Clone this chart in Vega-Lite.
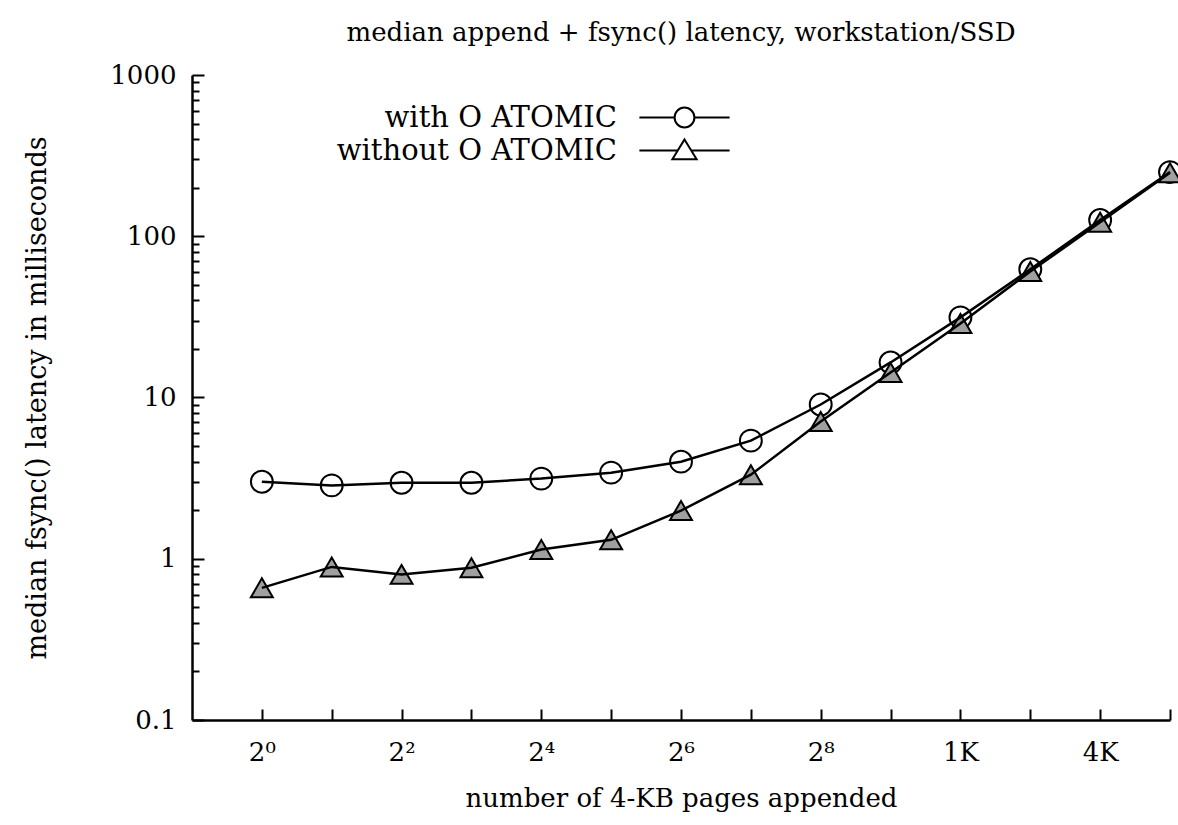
{
  "$schema": "https://vega.github.io/schema/vega-lite/v6.json",
  "width": 978,
  "height": 645,
  "autosize": "none",
  "padding": {"left": 192, "top": 75, "right": 8, "bottom": 105},
  "background": "white",
  "config": {"font": "DejaVu Serif", "view": {"stroke": null}},
  "title": {"text": "median append + fsync() latency, workstation/SSD", "fontSize": 26, "fontWeight": "normal", "font": "DejaVu Serif", "offset": 16, "anchor": "middle", "color": "black"},
  "data": {"values": [
    {"pages": 1, "latency": 3.0, "series": "with O ATOMIC"},
    {"pages": 2, "latency": 2.85, "series": "with O ATOMIC"},
    {"pages": 4, "latency": 2.96, "series": "with O ATOMIC"},
    {"pages": 8, "latency": 2.96, "series": "with O ATOMIC"},
    {"pages": 16, "latency": 3.14, "series": "with O ATOMIC"},
    {"pages": 32, "latency": 3.42, "series": "with O ATOMIC"},
    {"pages": 64, "latency": 4.0, "series": "with O ATOMIC"},
    {"pages": 128, "latency": 5.4, "series": "with O ATOMIC"},
    {"pages": 256, "latency": 9.05, "series": "with O ATOMIC"},
    {"pages": 512, "latency": 16.5, "series": "with O ATOMIC"},
    {"pages": 1024, "latency": 31.4, "series": "with O ATOMIC"},
    {"pages": 2048, "latency": 62.4, "series": "with O ATOMIC"},
    {"pages": 4096, "latency": 126, "series": "with O ATOMIC"},
    {"pages": 8192, "latency": 250, "series": "with O ATOMIC"},
    {"pages": 1, "latency": 0.66, "series": "without O ATOMIC"},
    {"pages": 2, "latency": 0.89, "series": "without O ATOMIC"},
    {"pages": 4, "latency": 0.8, "series": "without O ATOMIC"},
    {"pages": 8, "latency": 0.88, "series": "without O ATOMIC"},
    {"pages": 16, "latency": 1.14, "series": "without O ATOMIC"},
    {"pages": 32, "latency": 1.31, "series": "without O ATOMIC"},
    {"pages": 64, "latency": 1.99, "series": "without O ATOMIC"},
    {"pages": 128, "latency": 3.32, "series": "without O ATOMIC"},
    {"pages": 256, "latency": 7.1, "series": "without O ATOMIC"},
    {"pages": 512, "latency": 14.3, "series": "without O ATOMIC"},
    {"pages": 1024, "latency": 28.8, "series": "without O ATOMIC"},
    {"pages": 2048, "latency": 60.4, "series": "without O ATOMIC"},
    {"pages": 4096, "latency": 122, "series": "without O ATOMIC"},
    {"pages": 8192, "latency": 248, "series": "without O ATOMIC"}
  ]},
  "encoding": {
    "x": {
      "field": "pages", "type": "quantitative",
      "scale": {"type": "log", "base": 2, "domain": [0.5, 8192], "nice": false},
      "axis": {
        "title": "number of 4-KB pages appended",
        "titleFont": "DejaVu Serif", "titleFontSize": 26, "titleFontWeight": "normal", "titleColor": "black", "titlePadding": 20,
        "values": [1, 2, 4, 8, 16, 32, 64, 128, 256, 512, 1024, 2048, 4096, 8192],
        "labelExpr": "datum.value==1?'2⁰':datum.value==4?'2²':datum.value==16?'2⁴':datum.value==64?'2⁶':datum.value==256?'2⁸':datum.value==1024?'1K':datum.value==4096?'4K':''",
        "labelFont": "DejaVu Serif", "labelFontSize": 26, "labelColor": "black", "labelPadding": 30,
        "labelOverlap": false, "labelFlush": false, "grid": false,
        "domainColor": "black", "domainWidth": 2.5,
        "tickColor": "black", "tickWidth": 2, "tickSize": -11
      }
    }
  },
  "resolve": {"scale": {"shape": "independent"}, "axis": {"y": "independent"}},
  "layer": [
    {
      "mark": {"type": "point", "filled": true, "stroke": "black", "strokeWidth": 2, "size": 480, "opacity": 1},
      "encoding": {
        "y": {
          "field": "latency", "type": "quantitative",
          "scale": {"type": "log", "domain": [0.1, 1000], "nice": false},
          "axis": {
            "orient": "left",
            "title": "median fsync() latency in milliseconds",
            "titleFont": "DejaVu Serif", "titleFontSize": 27, "titleFontWeight": "normal", "titleColor": "black", "titlePadding": 58,
            "values": [0.1, 1, 10, 100, 1000],
            "format": "~g",
            "labelFont": "DejaVu Serif", "labelFontSize": 26, "labelColor": "black", "labelPadding": 28,
            "labelOverlap": false, "labelFlush": false, "grid": false,
            "domainColor": "black", "domainWidth": 2.5,
            "tickColor": "black", "tickWidth": 2, "tickSize": -12
          }
        },
        "shape": {
          "field": "series", "type": "nominal",
          "scale": {"domain": ["with O ATOMIC", "without O ATOMIC"], "range": ["circle", "triangle-up"]},
          "legend": null
        },
        "fill": {
          "field": "series", "type": "nominal",
          "scale": {"domain": ["with O ATOMIC", "without O ATOMIC"], "range": ["transparent", "#a0a0a0"]},
          "legend": null
        }
      }
    },
    {
      "mark": {"type": "line", "stroke": "black", "strokeWidth": 2.5},
      "encoding": {
        "y": {"field": "latency", "type": "quantitative", "axis": null},
        "detail": {"field": "series", "type": "nominal"}
      }
    },
    {
      "transform": [{"filter": "datum.pages < 0"}],
      "mark": {"type": "point", "filled": false, "color": "black", "strokeWidth": 2, "size": 484, "opacity": 1},
      "encoding": {
        "y": {
          "field": "latency", "type": "quantitative",
          "axis": {
            "orient": "left", "title": null, "labels": false, "domain": false, "grid": false,
            "values": [0.2, 0.3, 0.4, 0.5, 0.6, 0.7, 0.8, 0.9, 2, 3, 4, 5, 6, 7, 8, 9, 20, 30, 40, 50, 60, 70, 80, 90, 200, 300, 400, 500, 600, 700, 800, 900],
            "tickColor": "black", "tickWidth": 2, "tickSize": -7
          }
        },
        "shape": {
          "field": "series", "type": "nominal",
          "scale": {"domain": ["with O ATOMIC", "without O ATOMIC"], "range": ["M-4.1,0H-0.9M0.9,0H4.1M-0.9,0A0.9,0.9 0 1,1 0.9,0A0.9,0.9 0 1,1 -0.9,0Z", "M-4.1,0H-0.61M0.61,0H4.1M0,-1L1.1,0.8L-1.1,0.8Z"]},
          "legend": {
            "orient": "none", "legendX": 478, "legendY": 28, "title": null, "padding": 0,
            "labelFont": "DejaVu Serif", "labelFontSize": 29, "labelColor": "black", "labelAlign": "right", "labelOffset": -82, "labelLimit": 0,
            "symbolSize": 484, "symbolStrokeWidth": 2, "symbolStrokeColor": "black", "symbolFillColor": "transparent", "rowPadding": 2
          }
        }
      }
    }
  ]
}
